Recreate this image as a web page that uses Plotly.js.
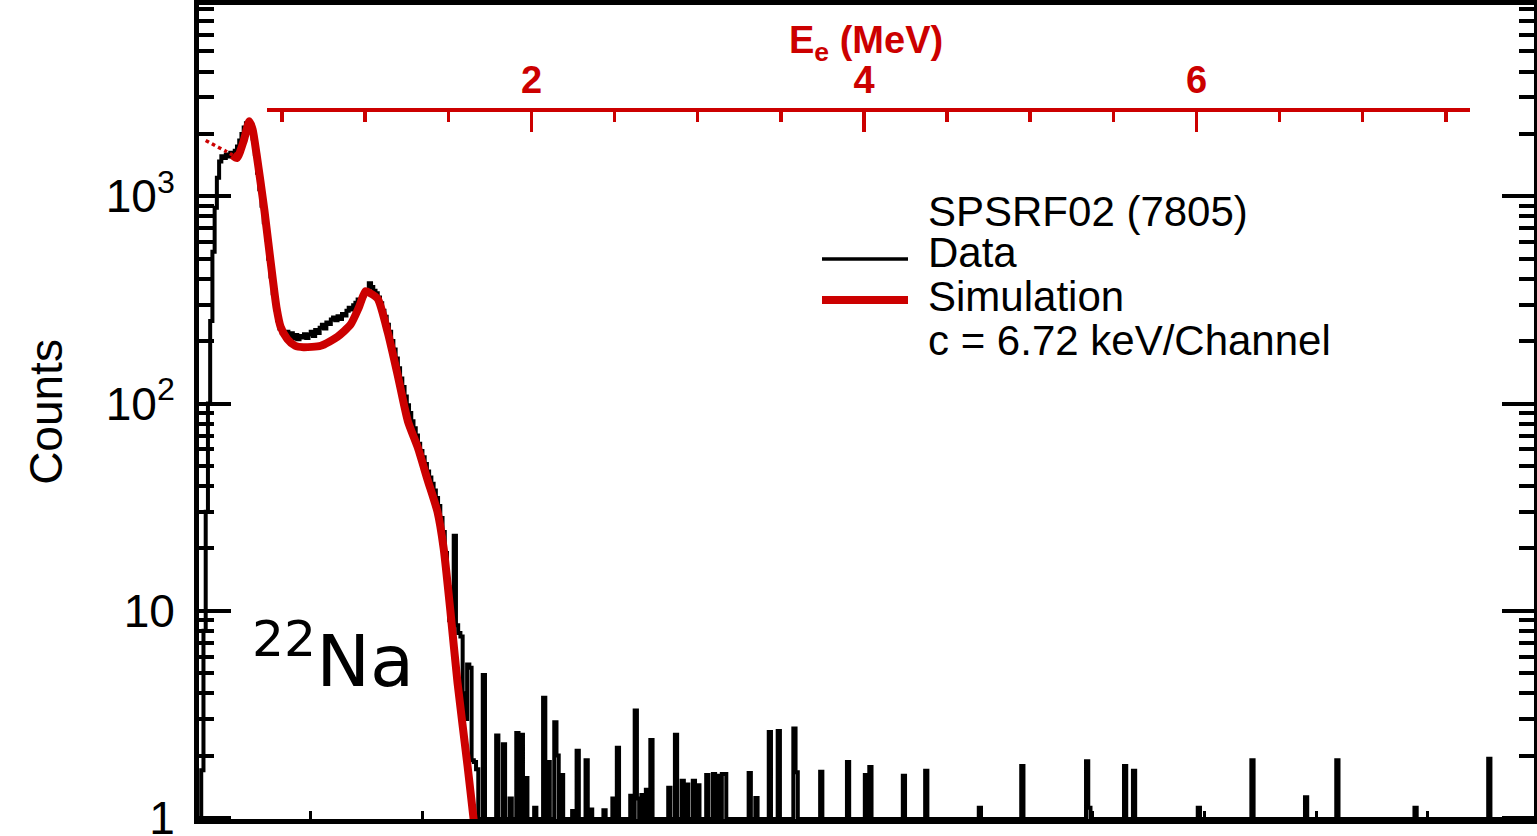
<!DOCTYPE html>
<html>
<head>
<meta charset="utf-8">
<script src="https://cdn.plot.ly/plotly-3.0.1.min.js"></script>
<style>
  html, body { margin: 0; padding: 0; background: #ffffff; }
  #chart { width: 1537px; height: 836px; }
</style>
</head>
<body>
<div id="chart"></div>
<script>
// ---- Spectrum settings ----
const BIN_WIDTH = 2;            // channels per histogram bin
const N_CHANNELS = 1200;
const KEV_PER_CHANNEL = 6.72;   // energy calibration

// Measured counts per bin, channels 0-251 (bin i starts at channel 2*i)
const denseCounts = [
  0, 1.7, 8, 30, 100, 250, 540, 880, 1230, 1470,
  1560, 1530, 1590, 1555, 1620, 1585, 1660, 1740, 1860, 2000,
  2150, 2250, 2240, 2100, 1900, 1600, 1300, 1080, 900, 750,
  620, 500, 410, 340, 285, 252, 230, 220, 214, 222,
  210, 218, 206, 214, 204, 212, 208, 216, 207, 215,
  222, 212, 226, 219, 232, 240, 230, 246, 242, 254,
  260, 252, 264, 256, 270, 266, 280, 290, 284, 298,
  306, 318, 312, 330, 340, 352, 380, 365, 350, 340,
  325, 305, 280, 262, 240, 222, 200, 182, 165, 148,
  132, 120, 108, 98, 90, 82, 76, 70, 64, 59,
  55, 51, 47, 44, 41, 38, 35, 32, 28, 24,
  19, 13, 9, 8, 23, 8.5, 7.8, 7.5, 4, 3,
  5.5, 5.3, 1.9, 1.86, 1.72, 0
];

// Sparse high-channel tail: first channel of each non-empty bin and its counts
const tailChannels = [
  254, 266, 272, 278, 284, 288, 292, 300, 308, 312,
  318, 320, 324, 334, 338, 346, 350, 362, 370, 374,
  386, 390, 392, 396, 400, 404, 420, 426, 432, 436,
  442, 446, 454, 460, 464, 468, 470, 492,
  498, 510, 518, 532, 534, 556, 580, 596, 600, 630,
  650, 698, 736, 794, 796, 828, 836, 894, 942, 990,
  1018, 1088, 1154
];
const tailCounts = [
  4.9, 2.5, 2.27, 1.24, 2.57, 2.52, 1.56, 1.12, 3.8, 1.86,
  2.9, 2.0, 1.61, 1.08, 2.11, 1.9, 1.1, 1.09, 1.24, 2.18,
  1.28, 3.3, 1.24, 1.29, 1.37, 2.38, 1.4, 2.52, 1.51, 1.45,
  1.51, 1.44, 1.61, 1.63, 1.6, 1.63, 1.63, 1.65,
  1.25, 2.6, 2.63, 2.7, 1.66, 1.67, 1.86, 1.61, 1.76, 1.6,
  1.69, 1.12, 1.78, 1.88, 1.12, 1.78, 1.69, 1.12, 1.9, 1.26,
  1.9, 1.12, 1.93
];

// Simulated spectrum
const simChannels = [
  6, 15, 24, 30, 34, 40, 45, 48, 51.5, 55,
  58.6, 62, 66, 69.4, 73, 79, 86, 93.5, 109, 124,
  135.6, 143, 149, 153.5, 160, 169, 178, 187, 196, 204.5,
  213.5, 219, 225, 231.4, 240.4, 245.7, 249
];
const simCounts = [
  1860, 1750, 1650, 1580, 1530, 1850, 2300, 2100, 1600, 1180,
  850, 600, 400, 290, 235, 205, 190, 187, 190, 210,
  240, 290, 348, 340, 320, 220, 136, 82, 61, 43,
  30, 20, 10, 4.5, 1.78, 1.0, 0.7
];
const simThresholdChannel = 30;   // simulation drawn dotted below this channel

// Axis ranges
const xRange = [0, 1195];
const yRange = [-0.005, 3.923];   // log10 of counts
const energyTicks = [2, 4, 6];
const energyMinorTicks = [0.5, 1, 1.5, 2.5, 3, 3.5, 4.5, 5, 5.5, 6.5, 7, 7.5];

// ---- Styling ----
const RED = '#cc0000';
const FONT = 'Liberation Sans, Arial, Helvetica, sans-serif';
const NARROW = 'Liberation Sans Narrow, Liberation Sans, Arial, sans-serif';

// Layout geometry (pixels)
const W = 1537, H = 836;
const M = { l: 199, r: 3, t: 5, b: 17 };
const plotW = W - M.l - M.r, plotH = H - M.t - M.b;
const px2paperX = x => (x - M.l) / plotW;
const px2paperY = y => (H - M.b - y) / plotH;

// ---- Build histogram step line ----
const nBins = N_CHANNELS / BIN_WIDTH;
const binCounts = new Array(nBins).fill(0);
denseCounts.forEach((v, i) => { binCounts[i] = v; });
tailChannels.forEach((ch, i) => { binCounts[Math.floor(ch / BIN_WIDTH)] = tailCounts[i]; });
// empty bins sit on the frame floor, as on a log-scale histogram
const floorCount = Math.pow(10, yRange[0]);
const stepX = [], stepY = [];
for (let i = 0; i < nBins; i++) {
  stepX.push(i * BIN_WIDTH);
  stepY.push(Math.max(binCounts[i], floorCount));
}
stepX.push(nBins * BIN_WIDTH);
stepY.push(stepY[nBins - 1]);

// ---- Simulation split into dotted (below threshold) and solid parts ----
const lowX = [], lowY = [], highX = [], highY = [];
simChannels.forEach((ch, i) => {
  if (ch <= simThresholdChannel) { lowX.push(ch); lowY.push(simCounts[i]); }
  if (ch >= simThresholdChannel) { highX.push(ch); highY.push(simCounts[i]); }
});

// ---- Minor ticks for the log axis ----
const minorVals = [];
for (let d = 0; d < 4; d++) {
  for (let m = 2; m <= 9; m++) minorVals.push(m * Math.pow(10, d));
}

// ---- Energy axis: same pixel scale as the channel axis, E = c * channel ----
const eDomain = [px2paperX(267), px2paperX(1470)];
const eRange = eDomain.map(f => KEV_PER_CHANNEL / 1000 * (xRange[0] + f * (xRange[1] - xRange[0])));

const traces = [
  {
    x: stepX, y: stepY, type: 'scatter', mode: 'lines', name: 'Data',
    line: { shape: 'hv', color: 'black', width: 4 }, hoverinfo: 'x+y'
  },
  {
    x: lowX, y: lowY, type: 'scatter', mode: 'lines', name: 'Simulation (below threshold)',
    line: { shape: 'spline', color: RED, width: 3.5, dash: 'dot' }, hoverinfo: 'skip'
  },
  {
    x: highX, y: highY, type: 'scatter', mode: 'lines', name: 'Simulation',
    line: { shape: 'spline', smoothing: 0.6, color: RED, width: 8 }
  },
  {
    // carries the energy axis
    x: [null], y: [null], xaxis: 'x2', yaxis: 'y', type: 'scatter', mode: 'lines',
    showlegend: false, hoverinfo: 'skip'
  }
];

const layout = {
  width: W, height: H,
  margin: { l: M.l, r: M.r, t: M.t, b: M.b, pad: 0 },
  paper_bgcolor: 'white',
  plot_bgcolor: 'rgba(0,0,0,0)',
  showlegend: false,
  font: { family: FONT, color: 'black' },
  xaxis: {
    range: xRange, showticklabels: false,
    ticks: 'inside', tickmode: 'linear', tick0: 0, dtick: 100,
    ticklen: 8, tickwidth: 3, tickcolor: 'black',
    showline: true, linewidth: 5, linecolor: 'black', mirror: true,
    showgrid: false, zeroline: false
  },
  yaxis: {
    type: 'log', range: yRange,
    tickmode: 'array', tickvals: [1, 10, 100, 1000],
    ticktext: ['1', '10', '10<sup>2</sup>', '10<sup>3</sup>'],
    ticks: 'inside', ticklen: 32, tickwidth: 4, tickcolor: 'black',
    minor: { tickmode: 'array', tickvals: minorVals, ticks: 'inside', ticklen: 15, tickwidth: 4, tickcolor: 'black' },
    ticklabelstandoff: 10,
    ticklabeloverflow: 'allow',
    tickfont: { family: FONT, size: 46, color: 'black' },
    showline: true, linewidth: 5, linecolor: 'black', mirror: 'ticks',
    showgrid: false, zeroline: false,
    title: { text: 'Counts', font: { family: FONT, size: 46, color: 'black' }, standoff: 30 }
  },
  xaxis2: {
    domain: eDomain, range: eRange,
    anchor: 'free', position: px2paperY(110), side: 'top',
    showline: true, linewidth: 4, linecolor: RED,
    ticks: 'inside', tickmode: 'array', tickvals: energyTicks,
    ticklen: 20, tickwidth: 3.5, tickcolor: RED,
    minor: { tickmode: 'array', tickvals: energyMinorTicks, ticks: 'inside', ticklen: 10, tickwidth: 3.5, tickcolor: RED },
    tickfont: { family: NARROW, size: 38, color: RED, weight: 'bold' },
    showgrid: false, zeroline: false
  },
  shapes: [
    { type: 'line', xref: 'paper', yref: 'paper', x0: px2paperX(822), x1: px2paperX(908),
      y0: px2paperY(259), y1: px2paperY(259), line: { color: 'black', width: 3.5 } },
    { type: 'line', xref: 'paper', yref: 'paper', x0: px2paperX(822), x1: px2paperX(908),
      y0: px2paperY(300), y1: px2paperY(300), line: { color: RED, width: 8 } }
  ],
  annotations: [
    { text: 'SPSRF02 (7805)', x: px2paperX(926), y: px2paperY(211) },
    { text: 'Data', x: px2paperX(926), y: px2paperY(253) },
    { text: 'Simulation', x: px2paperX(926), y: px2paperY(296) },
    { text: 'c = ' + KEV_PER_CHANNEL.toFixed(2) + ' keV/Channel', x: px2paperX(926), y: px2paperY(340) }
  ].map(a => Object.assign({
    xref: 'paper', yref: 'paper', xanchor: 'left', yanchor: 'middle', showarrow: false,
    font: { family: FONT, size: 42, color: 'black' }
  }, a)).concat([
    // energy axis title
    { text: '<b>E<sub>e</sub> (MeV)</b>', xref: 'paper', yref: 'paper',
      x: px2paperX(866), y: px2paperY(43), xanchor: 'center', yanchor: 'middle', showarrow: false,
      font: { family: NARROW, size: 38, color: RED } },
    { text: '<sup>22</sup>Na', xref: 'paper', yref: 'paper', x: px2paperX(333), y: px2paperY(656),
      xanchor: 'center', yanchor: 'middle', showarrow: false,
      font: { family: 'DejaVu Sans, Liberation Sans, sans-serif', size: 72, color: 'black' } }
  ])
};

Plotly.newPlot('chart', traces, layout, { staticPlot: true, displayModeBar: false });
</script>
</body>
</html>
